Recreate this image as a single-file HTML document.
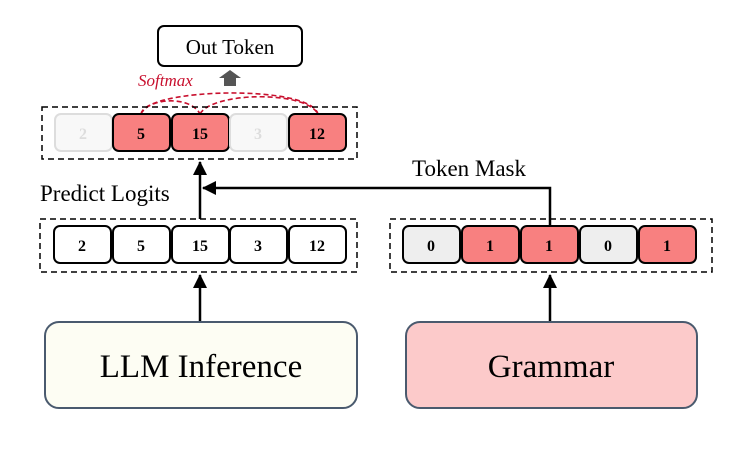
<!DOCTYPE html>
<html><head><style>body{margin:0;background:#fff}svg{display:block}</style></head><body>
<svg width="748" height="450" viewBox="0 0 748 450" xmlns="http://www.w3.org/2000/svg" font-family="Liberation Serif, serif">
<defs>
<marker id="a2" markerWidth="14" markerHeight="14" refX="13" refY="7" orient="auto" markerUnits="userSpaceOnUse"><path d="M0,0 L14,7 L0,14 z" fill="#000"/></marker></defs>
<!-- Out token -->
<rect x="158" y="26" width="144" height="40" rx="6" fill="#fff" stroke="#000" stroke-width="2"/>
<text x="230" y="54" font-size="21" text-anchor="middle">Out Token</text>
<path d="M224,86 V78 H219 L230,70 L241,78 H236 V86 z" fill="#555"/>
<text x="138" y="86" font-size="17" font-style="italic" fill="#c8102e">Softmax</text>
<g fill="none" stroke="#c8102e" stroke-width="1.6" stroke-dasharray="5,3">
<path d="M141,114 C145,88 310,84 318,114"/>
<path d="M141,114 C148,98 190,95 200,114"/>
<path d="M200,114 C212,92 305,90 318,114"/>
</g>
<!-- top row -->
<rect x="42" y="107" width="315" height="52" fill="none" stroke="#000" stroke-width="1.5" stroke-dasharray="6,4"/>
<g font-size="16" font-weight="bold" text-anchor="middle">
<rect x="55" y="114" width="57" height="37" rx="6" fill="#f8f8f8" stroke="#ddd" stroke-width="2"/><text x="83" y="139" fill="#ddd">2</text>
<rect x="113" y="114" width="57" height="37" rx="6" fill="#f88080" stroke="#000" stroke-width="2"/><text x="141" y="139">5</text>
<rect x="172" y="114" width="57" height="37" rx="6" fill="#f88080" stroke="#000" stroke-width="2"/><text x="200" y="139">15</text>
<rect x="230" y="114" width="57" height="37" rx="6" fill="#f8f8f8" stroke="#ddd" stroke-width="2"/><text x="258" y="139" fill="#ddd">3</text>
<rect x="289" y="114" width="57" height="37" rx="6" fill="#f88080" stroke="#000" stroke-width="2"/><text x="317" y="139">12</text>
</g>
<!-- middle rows -->
<rect x="40" y="219" width="317" height="53" fill="none" stroke="#000" stroke-width="1.5" stroke-dasharray="6,4"/>
<rect x="390" y="219" width="322" height="53" fill="none" stroke="#000" stroke-width="1.5" stroke-dasharray="6,4"/>
<g font-size="16" font-weight="bold" text-anchor="middle" stroke-width="2">
<rect x="54" y="226" width="57" height="37" rx="6" fill="#fff" stroke="#000"/><text x="82" y="251">2</text>
<rect x="113" y="226" width="57" height="37" rx="6" fill="#fff" stroke="#000"/><text x="141" y="251">5</text>
<rect x="172" y="226" width="57" height="37" rx="6" fill="#fff" stroke="#000"/><text x="200" y="251">15</text>
<rect x="230" y="226" width="57" height="37" rx="6" fill="#fff" stroke="#000"/><text x="258" y="251">3</text>
<rect x="289" y="226" width="57" height="37" rx="6" fill="#fff" stroke="#000"/><text x="317" y="251">12</text>
<rect x="403" y="226" width="57" height="37" rx="6" fill="#eee" stroke="#000"/><text x="431" y="251">0</text>
<rect x="462" y="226" width="57" height="37" rx="6" fill="#f88080" stroke="#000"/><text x="490" y="251">1</text>
<rect x="521" y="226" width="57" height="37" rx="6" fill="#f88080" stroke="#000"/><text x="549" y="251">1</text>
<rect x="580" y="226" width="57" height="37" rx="6" fill="#eee" stroke="#000"/><text x="608" y="251">0</text>
<rect x="639" y="226" width="57" height="37" rx="6" fill="#f88080" stroke="#000"/><text x="667" y="251">1</text>
</g>
<text x="40" y="201" font-size="23">Predict Logits</text>
<text x="412" y="176" font-size="23">Token Mask</text>
<g stroke="#000" stroke-width="2.5" fill="none">
<line x1="200" y1="219" x2="200" y2="162" marker-end="url(#a2)"/>
<polyline points="550,226 550,188 203,188" marker-end="url(#a2)"/>
<line x1="200" y1="322" x2="200" y2="275" marker-end="url(#a2)"/>
<line x1="550" y1="322" x2="550" y2="275" marker-end="url(#a2)"/>
</g>
<!-- bottom -->
<rect x="45" y="322" width="312" height="86" rx="14" fill="#fdfdf3" stroke="#4a5a6e" stroke-width="2"/>
<text x="201" y="377" font-size="33" text-anchor="middle">LLM Inference</text>
<rect x="406" y="322" width="291" height="86" rx="14" fill="#fccaca" stroke="#4a5a6e" stroke-width="2"/>
<text x="551" y="377" font-size="33" text-anchor="middle">Grammar</text>
</svg>
</body></html>
